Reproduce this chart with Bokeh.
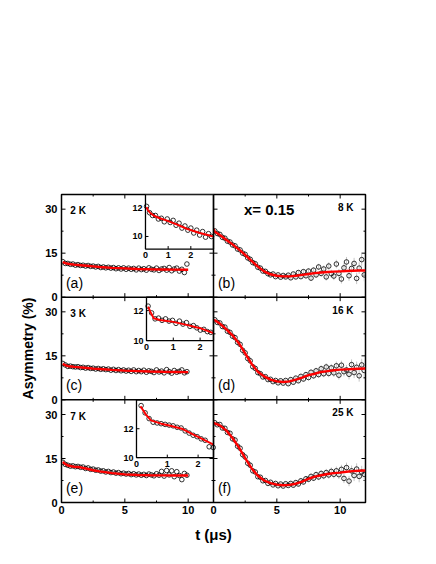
import math
from bokeh.plotting import figure
from bokeh.models import Range1d, FixedTicker, Span
from bokeh.core.properties import value
from bokeh.embed import file_html
from bokeh.resources import INLINE

# ---------------- data ----------------
t_left = [0.1, 0.3, 0.5, 0.7, 0.9, 1.1, 1.3, 1.5, 1.7, 1.9,
          2.1, 2.3, 2.5, 2.7, 2.9, 3.1, 3.3, 3.5, 3.7, 3.9,
          4.1, 4.3, 4.5, 4.7, 4.9, 5.1, 5.3, 5.5, 5.7, 5.9,
          6.1, 6.3, 6.5, 6.7, 6.9, 7.1, 7.3, 7.5, 7.7, 7.9,
          8.1, 8.3, 8.5, 8.7, 8.9, 9.1, 9.3, 9.5, 9.7, 9.9]
a_y = [12.1, 11.5, 11.5, 11.2, 11.3, 10.9, 11.1, 10.8, 10.9, 10.6,
       10.8, 10.5, 10.6, 10.3, 10.5, 10.1, 10.3, 10.0, 10.2, 9.9,
       10.1, 9.7, 10.0, 9.6, 10.0, 9.5, 9.9, 9.5, 9.8, 9.3,
       9.9, 9.4, 9.7, 9.2, 10.0, 9.5, 9.3, 9.9, 9.1, 9.6,
       9.8, 9.2, 10.1, 9.0, 9.6, 9.9, 8.9, 9.5, 8.4, 11.3]
c_y = [12.4, 11.9, 11.4, 11.5, 11.3, 11.2, 11.3, 11.0, 11.1, 10.8,
       11.0, 10.7, 10.8, 10.5, 10.7, 10.4, 10.6, 10.3, 10.5, 10.1,
       10.4, 10.0, 10.3, 9.9, 10.2, 9.8, 10.1, 9.7, 10.2, 9.6,
       10.0, 9.6, 10.1, 9.4, 9.9, 9.7, 9.3, 10.2, 9.5, 9.8,
       9.2, 10.3, 9.6, 9.1, 10.0, 9.4, 9.7, 10.2, 9.2, 9.6]
e_y = [13.7, 13.0, 12.7, 12.4, 12.5, 12.2, 12.3, 12.0, 12.1, 11.6,
       11.8, 11.3, 11.4, 11.0, 11.1, 10.7, 10.8, 10.4, 10.6, 10.2,
       10.4, 10.0, 10.2, 9.8, 10.0, 9.7, 9.9, 9.5, 9.8, 9.4,
       9.7, 9.3, 9.6, 9.2, 9.7, 9.4, 9.1, 9.8, 9.3, 10.6,
       9.0, 10.9, 9.4, 10.8, 8.8, 10.5, 9.2, 7.8, 9.9, 9.3]
t_left_fit = [0.1, 0.3, 0.5, 0.8, 1.0, 1.5, 2.0, 2.5, 3.0, 4.0, 5.0, 6.0, 7.0, 8.0, 9.0, 10.0]
a_fit = [12.0, 11.6, 11.4, 11.2, 11.1, 10.9, 10.7, 10.5, 10.3, 10.0, 9.8, 9.6, 9.5, 9.45, 9.4, 9.35]
c_fit = [12.3, 11.8, 11.5, 11.35, 11.25, 11.05, 10.85, 10.65, 10.5, 10.2, 9.95, 9.8, 9.65, 9.55, 9.5, 9.45]
e_fit = [13.8, 13.1, 12.6, 12.35, 12.2, 12.0, 11.5, 11.0, 10.6, 10.0, 9.6, 9.4, 9.3, 9.25, 9.2, 9.2]

t_right = [0.1, 0.3, 0.5, 0.7, 0.9, 1.1, 1.3, 1.5, 1.7, 1.9,
           2.1, 2.3, 2.5, 2.7, 2.9, 3.1, 3.3, 3.5, 3.7, 3.9,
           4.1, 4.3, 4.5, 4.7, 4.9, 5.1, 5.3, 5.5, 5.7, 5.9,
           6.1, 6.3, 6.5, 6.7, 6.9, 7.1, 7.3, 7.5, 7.7, 7.9,
           8.1, 8.3, 8.5, 8.7, 8.9, 9.1, 9.3, 9.5, 9.7, 9.9,
           10.1, 10.3, 10.5, 10.7, 10.9, 11.1, 11.3, 11.5, 11.7, 11.9]
err_right = [0.2, 0.2, 0.2, 0.2, 0.2, 0.2, 0.25, 0.25, 0.25, 0.25,
             0.3, 0.3, 0.3, 0.3, 0.35, 0.35, 0.35, 0.4, 0.4, 0.4,
             0.45, 0.45, 0.5, 0.5, 0.5, 0.55, 0.55, 0.6, 0.6, 0.65,
             0.7, 0.7, 0.75, 0.8, 0.8, 0.85, 0.9, 0.95, 1.0, 1.0,
             1.05, 1.1, 1.15, 1.2, 1.25, 1.3, 1.35, 1.4, 1.45, 1.5,
             1.55, 1.6, 1.7, 1.75, 1.8, 1.9, 1.95, 2.0, 2.1, 2.2]
b_y = [22.6, 21.7, 21.4, 20.4, 20.1, 19.1, 18.8, 17.8, 17.5, 16.4,
       16.1, 15.0, 14.6, 13.4, 12.9, 11.8, 11.4, 10.2, 9.9, 8.9,
       8.8, 8.0, 7.6, 7.9, 7.0, 7.6, 6.8, 7.4, 6.9, 7.5,
       6.6, 7.9, 6.9, 8.4, 7.0, 8.7, 7.3, 8.9, 6.5, 9.2,
       7.6, 10.3, 8.1, 9.6, 6.9, 10.6, 8.0, 7.2, 11.3, 8.1,
       6.2, 10.0, 12.0, 7.3, 9.8, 11.5, 6.4, 9.9, 12.8, 7.6]
d_y = [27.3, 26.4, 26.2, 25.0, 24.8, 23.4, 23.0, 21.7, 21.2, 19.6,
       18.9, 16.9, 16.0, 14.1, 13.3, 11.3, 10.7, 9.3, 8.9, 7.8,
       7.9, 6.9, 7.0, 6.2, 6.6, 5.8, 6.5, 5.7, 6.6, 5.5,
       6.9, 6.0, 7.4, 6.5, 8.0, 7.1, 8.6, 7.6, 9.4, 8.2,
       9.9, 8.6, 10.6, 8.9, 11.2, 9.0, 10.9, 9.2, 11.6, 8.4,
       11.8, 9.6, 10.2, 8.7, 12.0, 9.3, 11.1, 8.2, 11.9, 10.0]
f_y = [27.2, 26.5, 26.6, 25.4, 25.3, 23.9, 23.6, 21.7, 21.3, 19.2,
       18.5, 16.3, 15.5, 13.4, 12.7, 10.8, 10.4, 8.8, 8.6, 7.4,
       7.5, 6.5, 6.9, 6.0, 6.5, 5.7, 6.3, 5.6, 6.4, 5.8,
       6.5, 5.9, 6.8, 6.3, 7.4, 7.0, 8.1, 7.9, 8.9, 8.3,
       9.5, 8.7, 9.9, 9.1, 10.2, 9.4, 10.6, 9.6, 10.8, 9.5,
       11.3, 8.2, 11.9, 7.3, 10.8, 9.2, 11.4, 8.9, 10.4, 9.6]
t_right_fit = [0.0, 0.1, 0.5, 1.0, 1.5, 2.0, 2.5, 3.0, 3.5, 4.0, 4.5, 5.0, 5.5,
               6.0, 6.5, 7.0, 7.5, 8.0, 8.5, 9.0, 9.5, 10.0, 10.5, 11.0, 11.5, 12.0]
b_fit = [23.2, 22.3, 21.2, 19.6, 18.0, 16.3, 14.4, 12.4, 10.4, 8.8, 7.8, 7.3, 7.1,
         7.1, 7.3, 7.6, 7.9, 8.2, 8.4, 8.6, 8.7, 8.8, 8.9, 9.0, 9.1, 9.1]
d_fit = [27.2, 27.1, 26.0, 24.1, 22.0, 19.3, 15.8, 12.3, 9.6, 8.0, 6.9, 6.3, 6.1,
         6.3, 6.9, 7.6, 8.4, 8.9, 9.5, 9.8, 10.1, 10.3, 10.4, 10.5, 10.6, 10.7]
f_fit = [27.2, 27.0, 26.3, 24.6, 22.0, 18.8, 15.1, 11.7, 9.1, 7.5, 6.6, 6.1, 5.9,
         6.0, 6.4, 7.1, 8.1, 8.8, 9.3, 9.7, 10.0, 10.2, 10.5, 10.7, 10.8, 10.9]

# insets (early times)
ia_t = [0.05, 0.18, 0.31, 0.44, 0.57, 0.70, 0.83, 0.96, 1.09, 1.22, 1.35, 1.48,
        1.61, 1.74, 1.87, 2.00, 2.13, 2.26, 2.39, 2.52, 2.65, 2.78, 2.91]
ia_y = [12.15, 11.7, 11.5, 11.5, 11.25, 11.3, 11.05, 11.25, 11.0, 11.15, 10.8, 10.95,
        10.6, 10.75, 10.45, 10.6, 10.25, 10.45, 10.1, 10.35, 9.95, 10.2, 10.0]
ia_t_fit = [0.05, 0.1, 0.2, 0.36, 0.6, 0.95, 1.4, 1.82, 2.4, 3.0]
ia_fit = [12.1, 11.9, 11.7, 11.5, 11.32, 11.13, 10.85, 10.55, 10.25, 10.0]
ic_t = [0.06, 0.19, 0.32, 0.45, 0.58, 0.71, 0.84, 0.97, 1.10, 1.23, 1.36, 1.49,
        1.62, 1.75, 1.88, 2.01, 2.14, 2.27, 2.40]
ic_y = [12.3, 11.85, 11.45, 11.5, 11.35, 11.45, 11.3, 11.35, 11.15, 11.3, 11.1, 11.2,
        10.95, 11.0, 10.85, 10.7, 10.75, 10.6, 10.55]
ic_t_fit = [0.06, 0.15, 0.27, 0.5, 1.0, 1.5, 2.0, 2.5]
ic_fit = [12.27, 11.9, 11.49, 11.38, 11.25, 11.05, 10.83, 10.5]
ie_t = [0.15, 0.28, 0.41, 0.54, 0.67, 0.80, 0.93, 1.06, 1.19, 1.32, 1.45, 1.58,
        1.71, 1.84, 1.97, 2.10, 2.23, 2.36, 2.49]
ie_y = [13.6, 13.1, 12.7, 12.45, 12.4, 12.35, 12.3, 12.25, 12.2, 12.1, 12.05, 11.85,
        11.7, 11.55, 11.45, 11.3, 11.2, 10.75, 10.7]
ie_t_fit = [0.13, 0.3, 0.47, 0.8, 1.1, 1.47, 1.8, 2.13, 2.5]
ie_fit = [13.56, 13.0, 12.58, 12.35, 12.2, 12.0, 11.65, 11.3, 10.9]

x_ticks_main = [0, 5, 10]
x_minor_main = [2.5, 7.5]
y_ticks_main = [0, 15, 30]
y_minor_main = [7.5, 22.5]
inset_x_ticks = [0, 1, 2]
inset_y_ticks = [10, 12]
temps = {"a": "2 K", "b": "8 K", "c": "3 K", "d": "16 K", "e": "7 K", "f": "25 K"}
letters = {"a": "(a)", "b": "(b)", "c": "(c)", "d": "(d)", "e": "(e)", "f": "(f)"}
composition = "x= 0.15"

# ---------------- layout ----------------
FONT = "Liberation Sans"
XS, YS = 12, 35          # span of one panel (t in us, asymmetry in %)
NC, NR = 2, 3
MS = 4.6                 # marker size

panels = [
    # key, col, row(from bottom), t, y, err, t_fit, fit
    ("a", 0, 2, t_left, a_y, None, t_left_fit, a_fit),
    ("b", 1, 2, t_right, b_y, err_right, t_right_fit, b_fit),
    ("c", 0, 1, t_left, c_y, None, t_left_fit, c_fit),
    ("d", 1, 1, t_right, d_y, err_right, t_right_fit, d_fit),
    ("e", 0, 0, t_left, e_y, None, t_left_fit, e_fit),
    ("f", 1, 0, t_right, f_y, err_right, t_right_fit, f_fit),
]
insets = [
    # host col,row ; rect in host panel coords (L,R,B,T) ; x range ; y range ; data
    (0, 2, (6.63, 12, 16.4, 35), (0, 3), (9.1, 13.0), ia_t, ia_y, ia_t_fit, ia_fit),
    (0, 1, (6.71, 12, 20.2, 35), (0, 2.5), (10.0, 12.9), ic_t, ic_y, ic_t_fit, ic_fit),
    (0, 0, (5.92, 12, 15.3, 35), (0, 2.5), (10.0, 14.0), ie_t, ie_y, ie_t_fit, ie_fit),
]

ex = {"xr": Range1d(-XS, (NC - 1) * XS)}
ey = {"y1": Range1d(-YS, (NR - 1) * YS), "y2": Range1d(-2 * YS, (NR - 2) * YS)}
for i, (col, row, rect, xr_, yr_, *_rest) in enumerate(insets):
    L, R, B, T = rect
    X0, X1 = L + col * XS, R + col * XS
    Y0, Y1 = B + row * YS, T + row * YS
    sx = (xr_[1] - xr_[0]) / (X1 - X0)
    sy = (yr_[1] - yr_[0]) / (Y1 - Y0)
    ex[f"ix{i}"] = Range1d(xr_[0] - X0 * sx, xr_[0] + (NC * XS - X0) * sx)
    ey[f"iy{i}"] = Range1d(yr_[0] - Y0 * sy, yr_[0] + (NR * YS - Y0) * sy)

p = figure(frame_width=304, frame_height=308,
           x_range=Range1d(0, NC * XS), y_range=Range1d(0, NR * YS),
           output_backend="svg", toolbar_location=None,
           min_border_left=61, min_border_right=30,
           min_border_top=194, min_border_bottom=45)
p.extra_x_ranges = ex
p.extra_y_ranges = ey
p.grid.visible = False
p.outline_line_color = "black"
p.outline_line_width = 1.5
p.background_fill_color = "white"
p.border_fill_color = "white"

# axes: labels only (ticks drawn per panel below)
bt = [v + c * XS for c in range(NC) for v in x_ticks_main]
p.xaxis[0].ticker = FixedTicker(ticks=bt, minor_ticks=[])
p.xaxis[0].major_label_overrides = {v + c * XS: str(v) for c in range(1, NC) for v in x_ticks_main}
lt = [v + r * YS for r in range(NR) for v in y_ticks_main]
p.yaxis[0].ticker = FixedTicker(ticks=lt, minor_ticks=[])
p.yaxis[0].major_label_overrides = {v + r * YS: str(v) for r in range(1, NR) for v in y_ticks_main}
for ax in (p.xaxis[0], p.yaxis[0]):
    ax.major_tick_in = 0
    ax.major_tick_out = 0
    ax.minor_tick_in = 0
    ax.minor_tick_out = 0
    ax.axis_line_color = None
    ax.major_label_text_font = FONT
    ax.major_label_text_font_style = "bold"
    ax.major_label_text_font_size = "11px"
    ax.major_label_text_color = "black"
    ax.axis_label_text_font = FONT
    ax.axis_label_text_font_style = "bold"
    ax.axis_label_text_color = "black"
p.xaxis[0].major_label_standoff = 3
p.yaxis[0].major_label_standoff = 4
p.xaxis[0].axis_label = "t (\u03bcs)"
p.xaxis[0].axis_label_text_font_size = "15px"
p.xaxis[0].axis_label_standoff = 9
p.yaxis[0].axis_label = "Asymmetry (%)"
p.yaxis[0].axis_label_text_font_size = "14px"
p.yaxis[0].axis_label_standoff = 6

# inner panel borders
for c in range(1, NC):
    p.add_layout(Span(location=c * XS, dimension="height", line_color="black", line_width=1.5))
for r in range(1, NR):
    p.add_layout(Span(location=r * YS, dimension="width", line_color="black", line_width=1.5))

def rng(col, row):
    return dict(x_range_name="default" if col == 0 else "xr",
                y_range_name=["default", "y1", "y2"][row])

for key, col, row, t, y, err, tf, yf in panels:
    kw = rng(col, row)
    # inward ticks on all four sides
    for vals, ln in ((x_ticks_main, 4), (x_minor_main, 2)):
        p.ray(x=vals, y=[0] * len(vals), length=ln, length_units="screen", angle=math.pi / 2,
              line_color="black", line_width=1, **kw)
        p.ray(x=vals, y=[YS] * len(vals), length=ln, length_units="screen", angle=-math.pi / 2,
              line_color="black", line_width=1, **kw)
    for vals, ln in ((y_ticks_main, 4), (y_minor_main, 2)):
        p.ray(x=[0] * len(vals), y=vals, length=ln, length_units="screen", angle=0,
              line_color="black", line_width=1, **kw)
        p.ray(x=[XS] * len(vals), y=vals, length=ln, length_units="screen", angle=math.pi,
              line_color="black", line_width=1, **kw)
    if err is not None:
        p.segment(x0=t, y0=[a - b for a, b in zip(y, err)], x1=t, y1=[a + b for a, b in zip(y, err)],
                  line_color="#b8b8b8", line_width=0.8, **kw)
    p.scatter(x=t, y=y, marker="circle", size=MS, fill_color=None, line_color="black",
              line_width=0.8, **kw)
    p.line(x=tf, y=yf, line_color="red", line_width=2.4, **kw)
    p.text(x=[0.35], y=[2.2], text=[letters[key]], text_font=value(FONT), text_font_size="14px",
           text_align="left", text_baseline="bottom", text_color="black", **kw)
    if col == 0:
        p.text(x=[0.7], y=[29.4], text=[temps[key]], text_font=value(FONT), text_font_style="bold",
               text_font_size="10px", text_align="left", text_baseline="middle", text_color="black", **kw)
    else:
        p.text(x=[11.05], y=[30.6], text=[temps[key]], text_font=value(FONT), text_font_style="bold",
               text_font_size="10px", text_align="right", text_baseline="middle", text_color="black", **kw)
    if key == "b":
        p.text(x=[2.4], y=[29.9], text=[composition], text_font=value(FONT), text_font_style="bold",
               text_font_size="15px", text_align="left", text_baseline="middle", text_color="black", **kw)

for i, (col, row, rect, xr_, yr_, it, iy, itf, iyf) in enumerate(insets):
    kw = dict(x_range_name=f"ix{i}", y_range_name=f"iy{i}")
    p.quad(left=[xr_[0]], right=[xr_[1]], bottom=[yr_[0]], top=[yr_[1]], fill_color="white",
           line_color="black", line_width=1.3, **kw)
    p.ray(x=inset_x_ticks, y=[yr_[0]] * len(inset_x_ticks), length=3, length_units="screen",
          angle=math.pi / 2, line_color="black", line_width=1, **kw)
    p.ray(x=[xr_[0]] * len(inset_y_ticks), y=inset_y_ticks, length=3, length_units="screen",
          angle=0, line_color="black", line_width=1, **kw)
    p.text(x=inset_x_ticks, y=[yr_[0]] * len(inset_x_ticks), text=[str(v) for v in inset_x_ticks],
           y_offset=3, text_font=value(FONT), text_font_style="bold", text_font_size="9px",
           text_align="center", text_baseline="top", text_color="black", **kw)
    p.text(x=[xr_[0]] * len(inset_y_ticks), y=inset_y_ticks, text=[str(v) for v in inset_y_ticks],
           x_offset=-3, text_font=value(FONT), text_font_style="bold", text_font_size="9px",
           text_align="right", text_baseline="middle", text_color="black", **kw)
    p.scatter(x=it, y=iy, marker="circle", size=MS, fill_color=None, line_color="black",
              line_width=0.8, **kw)
    p.line(x=itf, y=iyf, line_color="red", line_width=2.0, **kw)

open("out.html", "w").write(file_html(p, INLINE))
